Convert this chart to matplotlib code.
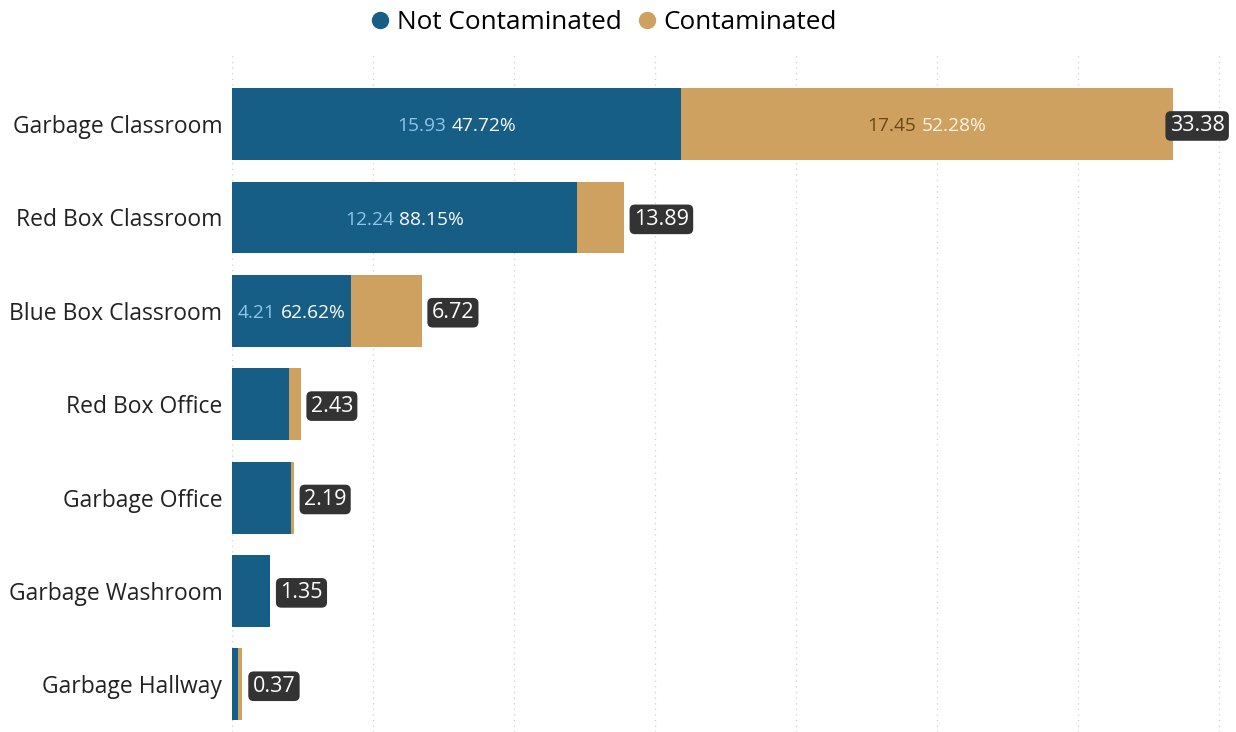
import matplotlib
matplotlib.use("Agg")
import matplotlib.pyplot as plt
from matplotlib.lines import Line2D
from matplotlib.offsetbox import TextArea, HPacker, AnnotationBbox

plt.rcParams['font.family'] = ['Open Sans', 'DejaVu Sans']

# data
categories = ['Garbage Classroom', 'Red Box Classroom', 'Blue Box Classroom',
              'Red Box Office', 'Garbage Office', 'Garbage Washroom', 'Garbage Hallway']
not_contaminated = [15.93, 12.24, 4.21, 2.02, 2.09, 1.35, 0.21]
contaminated = [17.45, 1.65, 2.51, 0.41, 0.10, 0.00, 0.16]
totals = [33.38, 13.89, 6.72, 2.43, 2.19, 1.35, 0.37]
# shares shown in the labels (Power BI computes them from unrounded values)
pct_not = [47.72, 88.15, 62.62, None, None, None, None]
pct_cont = [52.28, None, None, None, None, None, None]

blue = '#175E87'
tan = '#CFA160'

fig = plt.figure(figsize=(12.36, 7.32), dpi=100)
ax = fig.add_axes([232 / 1236, 0.0, 1 - 232 / 1236, (732 - 55) / 732])

y = list(range(len(categories)))
ax.barh(y, not_contaminated, height=0.77, color=blue, zorder=2)
ax.barh(y, contaminated, left=not_contaminated, height=0.77, color=tan, zorder=2)

xmax = 35.6
ax.set_xlim(0, xmax)
ax.set_ylim(6.51, -0.74)
ax.set_xticks(range(0, 36, 5))
ax.set_xticklabels([])
ax.tick_params(length=0)
ax.set_yticks(y)
ax.set_yticklabels(categories, fontsize=16.5, color='#222222')
ax.tick_params(axis='y', pad=7)
ax.grid(axis='x', linestyle=(0, (1, 3.5)), color='#D0D0D0', linewidth=0.9, zorder=0)
for s in ax.spines.values():
    s.set_visible(False)


def seg_label(xc, yc, val, val_color, pct, pct_color):
    a = TextArea(f'{val:.2f}', textprops=dict(color=val_color, fontsize=13.8))
    b = TextArea(f'{pct:.2f}%', textprops=dict(color=pct_color, fontsize=13.8))
    box = HPacker(children=[a, b], align='center', pad=0, sep=4)
    ab = AnnotationBbox(box, (xc, yc + 0.025), frameon=False, box_alignment=(0.5, 0.5), zorder=4)
    ax.add_artist(ab)


for i in y:
    n, c, t = not_contaminated[i], contaminated[i], totals[i]
    if pct_not[i] is not None:
        seg_label(n / 2, i, n, '#8CC6EA', pct_not[i], 'white')
    if pct_cont[i] is not None:
        seg_label(n + c / 2, i, c, '#6A4A12', pct_cont[i], '#FFF6E6')
    lx = t + 0.36
    if lx + 2.4 > xmax:
        lx = xmax - 2.35
    ax.text(lx, i + 0.02, f'{t:.2f}', ha='left', va='center', fontsize=15.5, color='white',
            zorder=5,
            bbox=dict(boxstyle='round,pad=0.2,rounding_size=0.25', fc='#333333', ec='none'))

handles = [Line2D([], [], marker='o', linestyle='', color=blue, markersize=11.5),
           Line2D([], [], marker='o', linestyle='', color=tan, markersize=11.5)]
fig.legend(handles, ['Not Contaminated', 'Contaminated'], loc='upper center',
           bbox_to_anchor=(0.487, 1.018), ncol=2, frameon=False, fontsize=18.8,
           handletextpad=0.15, columnspacing=0.45, handlelength=1.0)

fig.savefig('out.png', dpi=100)
